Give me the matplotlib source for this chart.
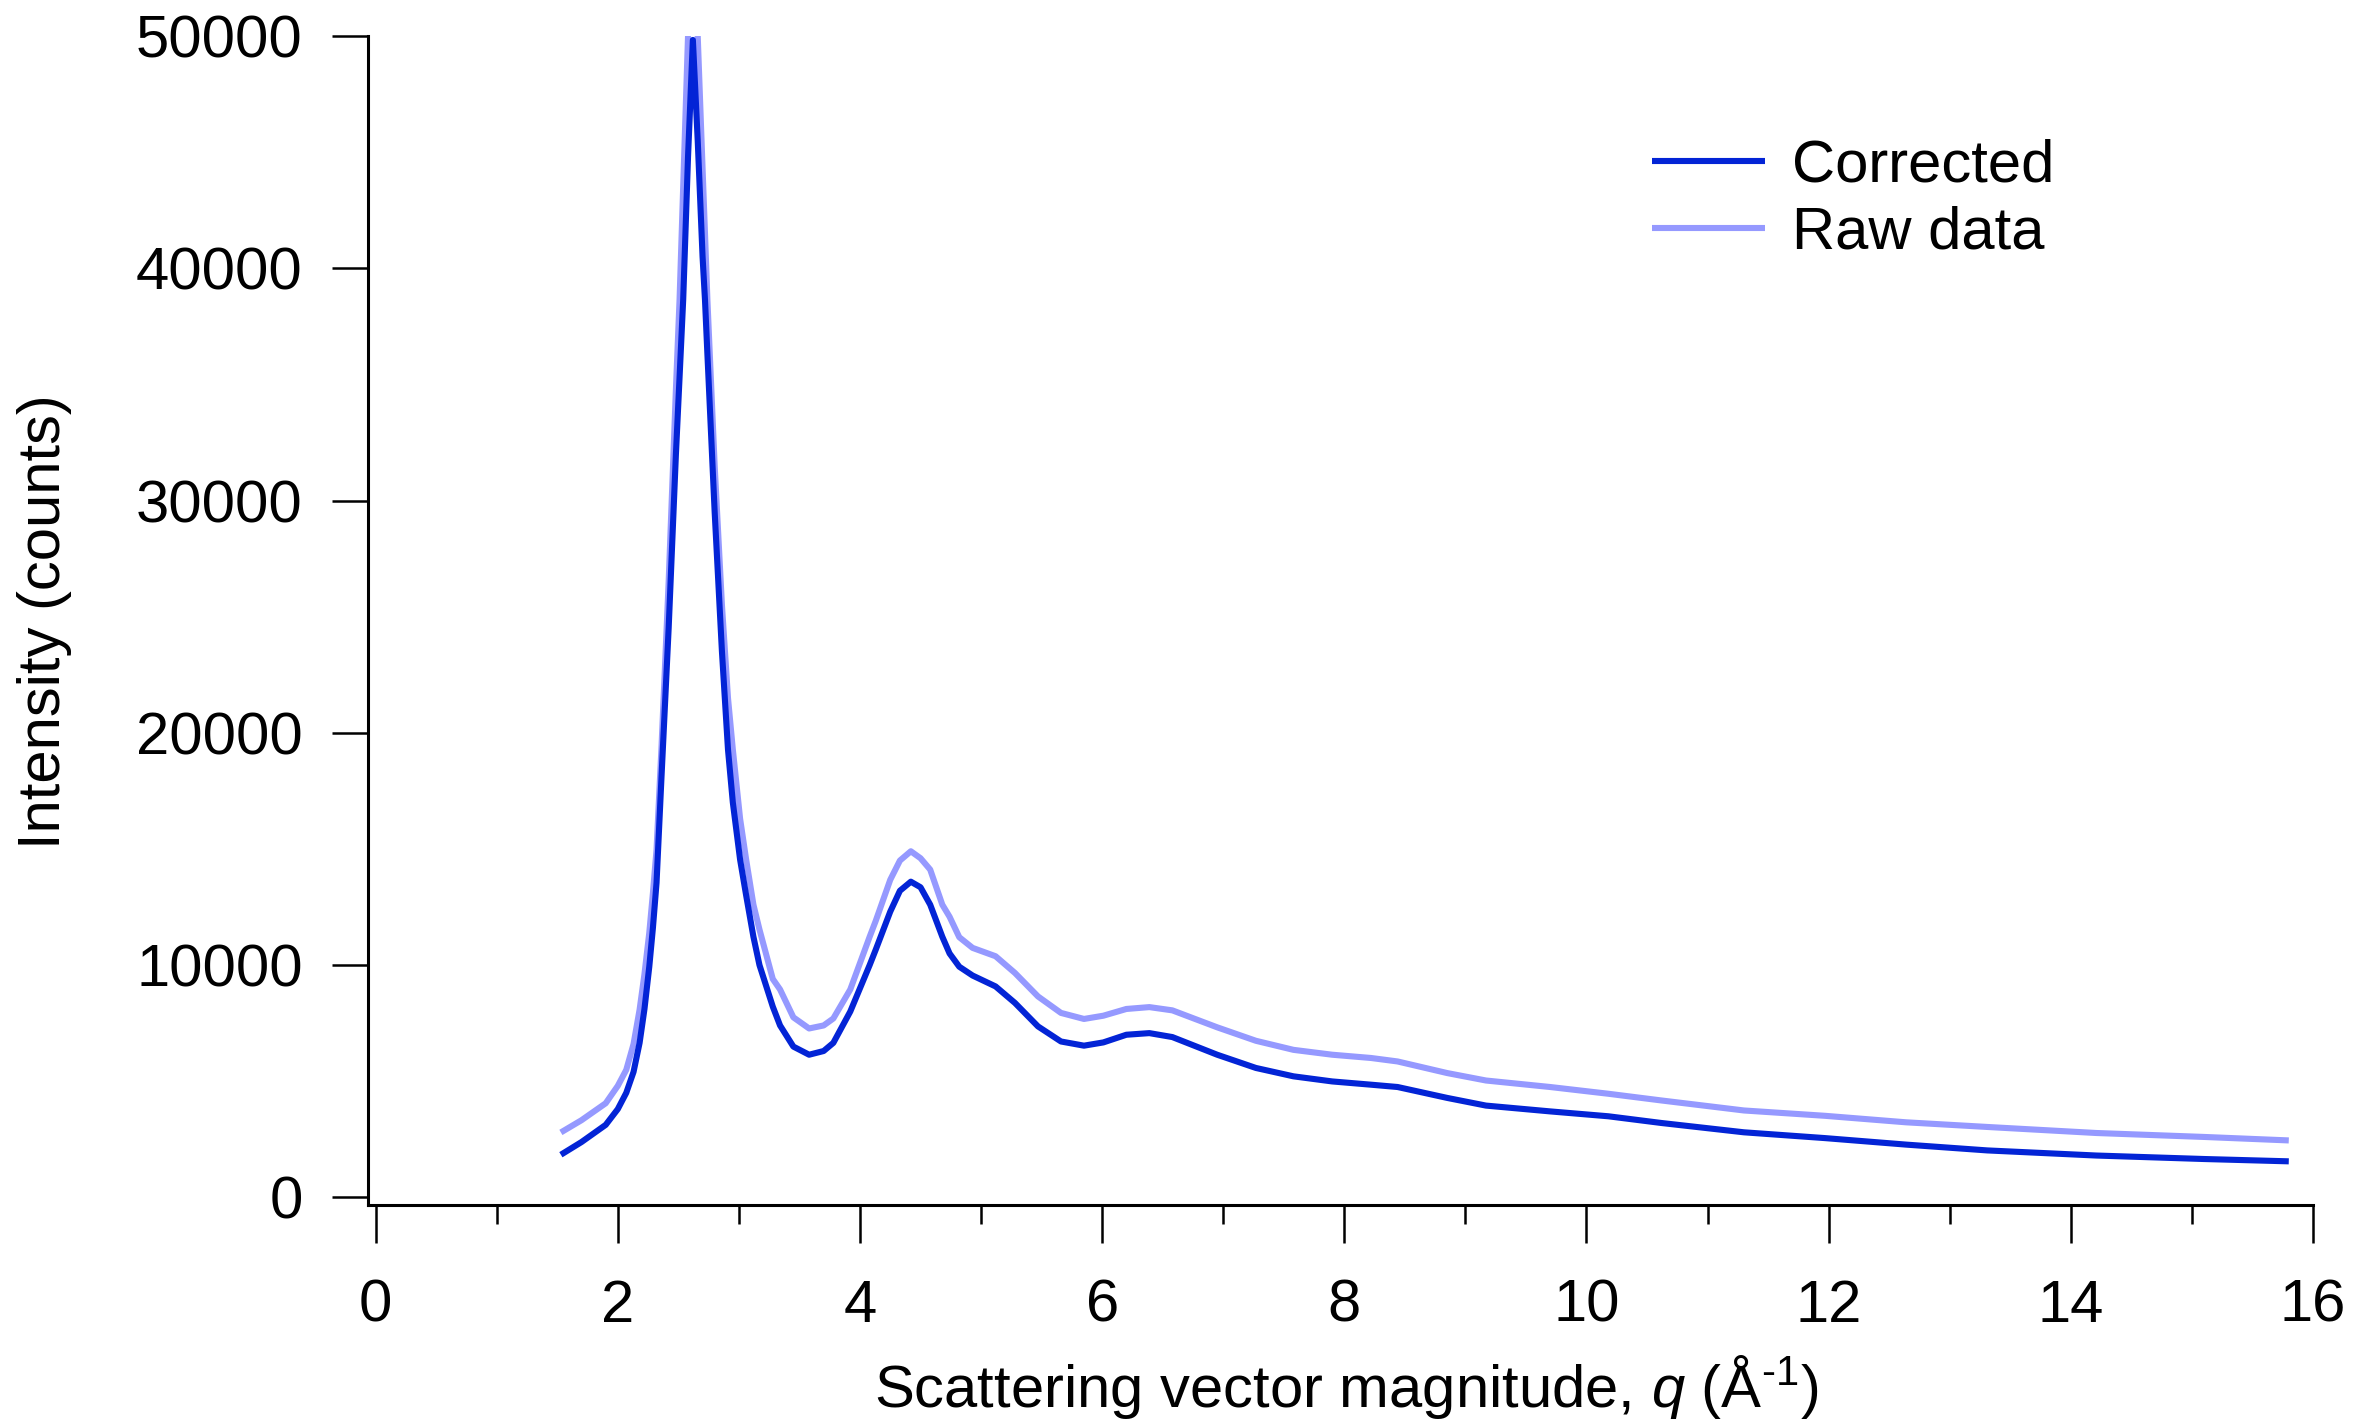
import numpy as np
import matplotlib
matplotlib.use('Agg')
import matplotlib.pyplot as plt
from matplotlib.ticker import MultipleLocator

plt.rcParams['font.family'] = ['Liberation Sans', 'DejaVu Sans']
plt.rcParams['mathtext.fontset'] = 'custom'
plt.rcParams['mathtext.rm'] = 'Liberation Sans'
plt.rcParams['mathtext.it'] = 'Liberation Sans:italic'

# scattering vector q (1/Angstrom)
q = [1.53, 1.70, 1.90, 2.00, 2.07, 2.13, 2.18, 2.22, 2.26, 2.29, 2.32, 2.36,
     2.42, 2.48, 2.51, 2.54, 2.58, 2.62, 2.66, 2.70, 2.72, 2.74, 2.80, 2.86,
     2.91, 2.95, 3.01, 3.06, 3.12, 3.17, 3.28, 3.34, 3.45, 3.58, 3.70, 3.78,
     3.92, 4.08, 4.13, 4.25, 4.33, 4.42, 4.50, 4.58, 4.68, 4.74, 4.82, 4.93,
     5.12, 5.28, 5.47, 5.66, 5.85, 6.01, 6.20, 6.39, 6.58, 6.95, 7.27, 7.58,
     7.90, 8.22, 8.44, 8.85, 9.17, 9.70, 10.18, 10.62, 11.30, 11.97, 12.64,
     13.31, 14.21, 15.10, 15.80]

corrected = [1835, 2380, 3120, 3800, 4500, 5400, 6650, 8100, 9930, 11600, 13550, 18000,
             24500, 32000, 35300, 38640, 44800, 49830, 45500, 40500, 38640, 36300, 29500, 23500,
             19280, 17000, 14540, 13000, 11220, 10000, 8210, 7400, 6490, 6140, 6300, 6650,
             8000, 10000, 10660, 12300, 13200, 13590, 13350, 12600, 11220, 10500, 9930, 9550,
             9080, 8370, 7360, 6710, 6530, 6670, 7000, 7070, 6900, 6140, 5570, 5210,
             4990, 4850, 4750, 4280, 3950, 3700, 3490, 3200, 2800, 2550, 2270,
             2020, 1800, 1650, 1550]

raw = [2795, 3320, 4050, 4800, 5490, 6600, 8080, 9600, 11390, 13100, 14970, 19280,
       26500, 34800, 38640, 43500, 50000, 56000, 50000, 44300, 41500, 38640, 31500, 25500,
       21500, 19280, 16300, 14540, 12600, 11530, 9400, 8950, 7750, 7270, 7400, 7700,
       8950, 11220, 11900, 13670, 14500, 14900, 14600, 14110, 12600, 12080, 11200, 10740,
       10380, 9660, 8650, 7940, 7680, 7820, 8110, 8190, 8050, 7320, 6740, 6350,
       6140, 6000, 5850, 5350, 5030, 4750, 4460, 4170, 3740, 3510, 3230,
       3030, 2770, 2600, 2450]

fig = plt.figure(figsize=(23.77, 14.22), dpi=100)
ax = fig.add_axes([368 / 2377, 1 - 1205 / 1422, (2313 - 368) / 2377, (1205 - 36) / 1422])

ax.plot(q, raw, color='#9599FF', lw=4.4, label='Raw data', zorder=2,
        solid_joinstyle='round', solid_capstyle='butt')
ax.plot(q, corrected, color='#0324D6', lw=4.4, label='Corrected', zorder=3,
        solid_joinstyle='round', solid_capstyle='butt')

ax.set_xlim(-0.063, 16)
ax.set_ylim(-330, 50000)
ax.xaxis.set_major_locator(MultipleLocator(2))
ax.xaxis.set_minor_locator(MultipleLocator(1))
ax.yaxis.set_major_locator(MultipleLocator(10000))

for s in ['top', 'right']:
    ax.spines[s].set_visible(False)
for s in ['left', 'bottom']:
    ax.spines[s].set_linewidth(2.2)

ax.tick_params(axis='x', which='major', direction='out', length=27, width=1.8, pad=26, labelsize=43)
ax.tick_params(axis='x', which='minor', direction='out', length=14, width=1.8)
ax.tick_params(axis='y', which='major', direction='out', length=26, width=1.8, pad=21, labelsize=43)

fig.text(45 / 2377, 1 - 622 / 1422, 'Intensity (counts)', rotation=90, ha='center', va='center', fontsize=43)
fig.text(1346 / 2377, 1 - 1407 / 1422, 'Scattering vector magnitude, $q$ (Å$^{\u20101}$)',
         ha='center', va='baseline', fontsize=43)

handles, labels = ax.get_legend_handles_labels()
ax.legend(handles[::-1], labels[::-1], loc='upper left', bbox_to_anchor=(1652 / 2377, 1 - 139 / 1422),
          bbox_transform=fig.transFigure, frameon=False, fontsize=43, handlelength=1.9,
          handletextpad=0.45, labelspacing=0.2, borderpad=0, borderaxespad=0)

fig.savefig('out.png', dpi=100)
